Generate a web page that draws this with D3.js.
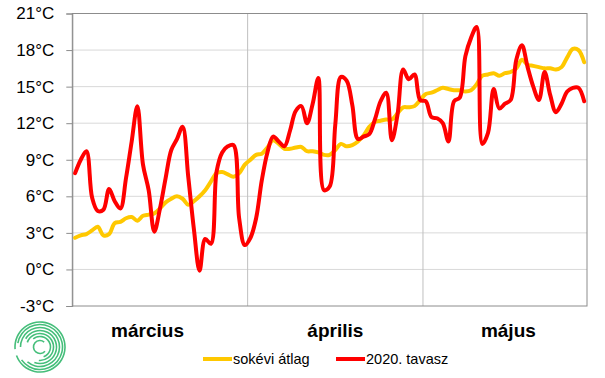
<!DOCTYPE html>
<html>
<head>
<meta charset="utf-8">
<script src="https://cdn.jsdelivr.net/npm/d3@7"></script>
<style>
  body { margin: 0; background: #fff; }
  svg { font-family: Arial, "Liberation Sans", sans-serif; }
</style>
</head>
<body>
<div id="chart"></div>
<script>
// Daily temperatures, Mar 1 .. (91 days)
const avgTemps = [
  2.6, 2.8, 2.9, 3.2, 3.5, 2.8, 2.9, 3.8, 3.9, 4.2,
  4.3, 4.0, 4.4, 4.5, 4.6, 5.0, 5.5, 5.8, 6.0, 5.8,
  5.3, 5.6, 6.0, 6.5, 7.2, 7.9, 8.0, 7.8, 7.6, 7.9,
  8.6, 9.0, 9.4, 9.5, 10.0, 10.6, 10.3, 9.9, 9.9, 10.0,
  10.05, 9.7, 9.7, 9.6, 9.4, 9.4, 9.8, 10.3, 10.1, 10.2,
  10.5, 11.0, 11.7, 12.1, 12.2, 12.3, 12.3, 12.8, 13.3, 13.3,
  13.4, 13.9, 14.4, 14.5, 14.7, 14.9, 14.8, 14.7, 14.7, 14.6,
  14.7, 15.2, 15.9, 16.0, 16.1, 15.9, 16.1, 16.2, 16.5, 17.2,
  16.8, 16.7, 16.6, 16.5, 16.5, 16.4, 16.6, 17.4, 18.1, 18.0,
  17.0
];
const temps2020 = [
  7.9, 9.0, 9.7, 5.9, 4.8, 4.9, 6.6, 5.6, 5.0, 7.5,
  10.5, 13.4, 8.6, 6.5, 3.1, 5.0, 7.5, 9.8, 10.7, 11.7,
  7.6, 3.3, -0.1, 2.5, 2.1, 8.0, 9.6, 10.1, 10.2, 4.2,
  2.0, 2.6, 4.2, 7.3, 9.6, 10.9, 10.5, 10.1, 11.4, 13.0,
  13.4, 12.0, 13.6, 15.7, 6.5, 6.8, 11.9, 15.8, 15.5, 13.5,
  10.7, 10.9, 11.1, 12.3, 13.8, 14.5, 10.6, 12.7, 16.4, 15.6,
  16.0, 13.9, 13.8, 12.5, 12.4, 12.0, 10.5, 13.8, 14.1, 17.5,
  19.0, 19.9, 10.3, 11.2, 14.8, 13.2, 13.6, 13.9, 17.2, 18.4,
  16.6, 15.0, 13.9, 16.2, 14.3, 12.9, 13.6, 14.6, 14.9, 14.9,
  13.8
];
const months = ['március', 'április', 'május'];
const monthStarts = [0, 31, 62];          // category index where a month group begins
const monthLabelAt = [12.8, 46, 76.6];    // category where the label sits
const yTicks = [-3, 0, 3, 6, 9, 12, 15, 18, 21];
const seriesNames = ['sokévi átlag', '2020. tavasz'];
const seriesColors = ['#ffc800', '#ff0000'];

const W = 605, H = 378;
const plot = {left: 72.3, right: 587, top: 13.5, bottom: 306};
const nCat = avgTemps.length;

const svg = d3.select('#chart').append('svg')
    .attr('width', W)
    .attr('height', H);

// category axis: each day takes one slot, points in the middle of it
const x = d3.scaleLinear().domain([0, nCat]).range([plot.left, plot.right]);
const y = d3.scaleLinear().domain([-3, 21]).range([plot.bottom, plot.top]);

// horizontal gridlines
svg.append('g')
    .selectAll('line')
    .data(yTicks.filter(d => d > -3 && d < 21))
    .enter().append('line')
    .attr('x1', plot.left).attr('x2', plot.right)
    .attr('y1', d => y(d)).attr('y2', d => y(d))
    .attr('stroke', '#d9d9d9').attr('stroke-width', 1);

// month separators
svg.append('g')
    .selectAll('line')
    .data(monthStarts.slice(1))
    .enter().append('line')
    .attr('x1', d => x(d)).attr('x2', d => x(d))
    .attr('y1', plot.top).attr('y2', plot.bottom)
    .attr('stroke', '#bfbfbf').attr('stroke-width', 1);

// frame
svg.append('rect')
    .attr('x', plot.left).attr('y', plot.top)
    .attr('width', plot.right - plot.left)
    .attr('height', plot.bottom - plot.top)
    .attr('fill', 'none')
    .attr('stroke', '#8c8c8c').attr('stroke-width', 1);

// y axis
const yAxis = svg.append('g')
    .attr('transform', `translate(${plot.left},0)`)
    .call(d3.axisLeft(y).tickValues(yTicks).tickSize(6).tickPadding(12)
        .tickFormat(d => d + '°C'));
yAxis.select('.domain').attr('stroke', '#8c8c8c');
yAxis.selectAll('.tick line').attr('stroke', '#8c8c8c');
yAxis.selectAll('.tick text')
    .attr('font-size', '17px')
    .attr('fill', '#000')
    .attr('font-family', 'Arial, "Liberation Sans", sans-serif');

// month labels
svg.append('g')
    .selectAll('text')
    .data(months)
    .enter().append('text')
    .attr('x', (d, i) => x(monthLabelAt[i] + 0.5))
    .attr('y', 336.5)
    .attr('text-anchor', 'middle')
    .attr('font-size', '19px')
    .attr('font-weight', 'bold')
    .attr('fill', '#000')
    .text(d => d);

// lines
const line = d3.line()
    .x((d, i) => x(i + 0.5))
    .y(d => y(d))
    .curve(d3.curveCatmullRom.alpha(0.5));

[avgTemps, temps2020].forEach((series, k) => {
    svg.append('path')
        .datum(series)
        .attr('d', line)
        .attr('fill', 'none')
        .attr('stroke', seriesColors[k])
        .attr('stroke-width', 4)
        .attr('stroke-linejoin', 'round')
        .attr('stroke-linecap', 'round');
});

// legend
const legendX = [203, 336];
const legend = svg.append('g');
seriesNames.forEach((name, k) => {
    legend.append('line')
        .attr('x1', legendX[k]).attr('x2', legendX[k] + 29)
        .attr('y1', 359).attr('y2', 359)
        .attr('stroke', seriesColors[k])
        .attr('stroke-width', 4);
    legend.append('text')
        .attr('x', legendX[k] + 30)
        .attr('y', 359)
        .attr('dy', '0.35em')
        .attr('font-size', '14.5px')
        .attr('fill', '#000')
        .text(name);
});

// logo: spiral of broken arcs
const defs = svg.append('defs');
const grad = defs.append('linearGradient')
    .attr('id', 'logoGrad')
    .attr('gradientUnits', 'userSpaceOnUse')
    .attr('x1', 17).attr('y1', 372).attr('x2', 65).attr('y2', 322);
grad.append('stop').attr('offset', '0%').attr('stop-color', '#2d7fc1');
grad.append('stop').attr('offset', '55%').attr('stop-color', '#2aa3a3');
grad.append('stop').attr('offset', '100%').attr('stop-color', '#45be7a');

const logoRings = [
    {r: 6.5, a0: 130, a1: 400},
    {r: 10.5, a0: -40, a1: 160},
    {r: 13.5, a0: -70, a1: 185},
    {r: 16.5, a0: -60, a1: 200},
    {r: 19.5, a0: -90, a1: 220},
    {r: 22.5, a0: -80, a1: 235},
    {r: 25, a0: -95, a1: 250}
];
const arc = d3.arc();
const logo = svg.append('g').attr('transform', 'translate(40,347)');
logoRings.forEach(ring => {
    logo.append('path')
        .attr('d', arc({
            innerRadius: ring.r - 0.8,
            outerRadius: ring.r + 0.8,
            startAngle: ring.a0 * Math.PI / 180,
            endAngle: ring.a1 * Math.PI / 180
        }))
        .attr('fill', 'url(#logoGrad)');
});
</script>
</body>
</html>
